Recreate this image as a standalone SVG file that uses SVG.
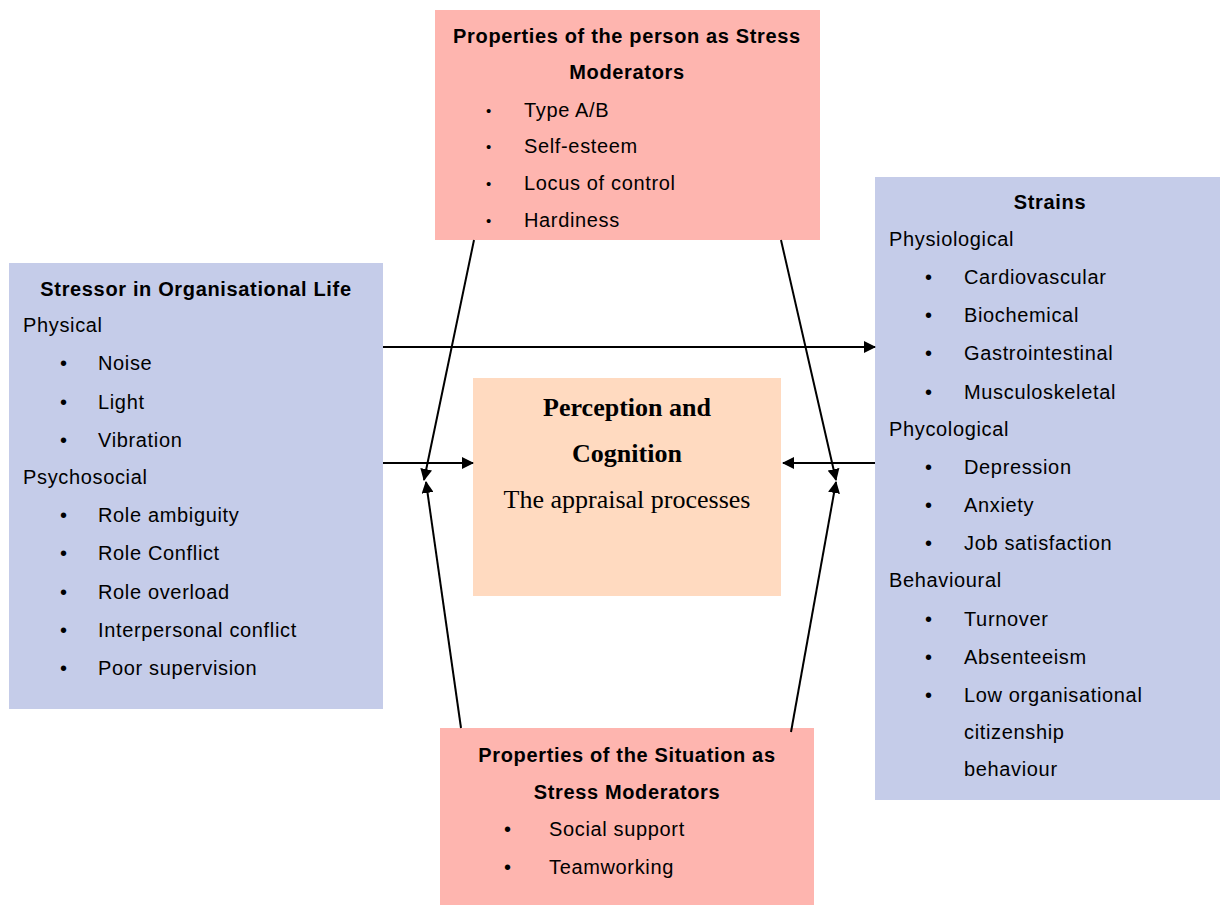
<svg xmlns="http://www.w3.org/2000/svg" width="1220" height="906" viewBox="0 0 1220 906">
<defs>
<marker id="ah" markerWidth="12" markerHeight="12" refX="11" refY="6" orient="auto" markerUnits="userSpaceOnUse">
<path d="M0,0 L12,6 L0,12 Z" fill="#000"/>
</marker>
<style>
.pink{fill:#FEB5AF}
.blue{fill:#C5CCE9}
.peach{fill:#FFDAC0}
text{font-family:"Liberation Sans",Arial,sans-serif;font-size:20px;letter-spacing:0.65px;fill:#000}
.b{font-weight:bold}
.c{text-anchor:middle}
.sb{font-size:15px}
.tm{font-family:"Liberation Serif","Times New Roman",serif;font-size:26px;letter-spacing:0}
.ln{stroke:#000;stroke-width:2;fill:none}
</style>
</defs>
<rect width="1220" height="906" fill="#fff"/>
<g id="person">
<rect class="pink" x="435" y="10" width="385" height="230"/>
<text class="b c" x="627" y="43">Properties of the person as Stress</text>
<text class="b c" x="627" y="79">Moderators</text>
<text class="sb" x="486" y="116">•</text><text x="524" y="117">Type A/B</text>
<text class="sb" x="486" y="152">•</text><text x="524" y="153">Self-esteem</text>
<text class="sb" x="486" y="189">•</text><text x="524" y="190">Locus of control</text>
<text class="sb" x="486" y="226">•</text><text x="524" y="227">Hardiness</text>
</g>
<g id="stressor">
<rect class="blue" x="9" y="263" width="374" height="446"/>
<text class="b c" x="196" y="296">Stressor in Organisational Life</text>
<text x="23" y="332">Physical</text>
<text x="60" y="370">•</text><text x="98" y="370">Noise</text>
<text x="60" y="409">•</text><text x="98" y="409">Light</text>
<text x="60" y="447">•</text><text x="98" y="447">Vibration</text>
<text x="23" y="484">Psychosocial</text>
<text x="60" y="522">•</text><text x="98" y="522">Role ambiguity</text>
<text x="60" y="560">•</text><text x="98" y="560">Role Conflict</text>
<text x="60" y="599">•</text><text x="98" y="599">Role overload</text>
<text x="60" y="637">•</text><text x="98" y="637">Interpersonal conflict</text>
<text x="60" y="675">•</text><text x="98" y="675">Poor supervision</text>
</g>
<g id="strains">
<rect class="blue" x="875" y="177" width="345" height="623"/>
<text class="b c" x="1050" y="209">Strains</text>
<text x="889" y="246">Physiological</text>
<text x="925" y="284">•</text><text x="964" y="284">Cardiovascular</text>
<text x="925" y="322">•</text><text x="964" y="322">Biochemical</text>
<text x="925" y="360">•</text><text x="964" y="360">Gastrointestinal</text>
<text x="925" y="399">•</text><text x="964" y="399">Musculoskeletal</text>
<text x="889" y="436">Phycological</text>
<text x="925" y="474">•</text><text x="964" y="474">Depression</text>
<text x="925" y="512">•</text><text x="964" y="512">Anxiety</text>
<text x="925" y="550">•</text><text x="964" y="550">Job satisfaction</text>
<text x="889" y="587">Behavioural</text>
<text x="925" y="626">•</text><text x="964" y="626">Turnover</text>
<text x="925" y="664">•</text><text x="964" y="664">Absenteeism</text>
<text x="925" y="702">•</text><text x="964" y="702">Low organisational</text>
<text x="964" y="739">citizenship</text>
<text x="964" y="776">behaviour</text>
</g>
<g id="perception">
<rect class="peach" x="473" y="378" width="308" height="218"/>
<text class="tm c" x="627" y="416" font-weight="bold">Perception and</text>
<text class="tm c" x="627" y="462" font-weight="bold">Cognition</text>
<text class="tm c" x="627" y="508">The appraisal processes</text>
</g>
<g id="situation">
<rect class="pink" x="440" y="728" width="374" height="177"/>
<text class="b c" x="627" y="762">Properties of the Situation as</text>
<text class="b c" x="627" y="799">Stress Moderators</text>
<text x="504" y="836">•</text><text x="549" y="836">Social support</text>
<text x="504" y="874">•</text><text x="549" y="874">Teamworking</text>
</g>
<g id="connectors">
<line class="ln" x1="383" y1="347" x2="875" y2="347" marker-end="url(#ah)"/>
<line class="ln" x1="383" y1="463" x2="473" y2="463" marker-end="url(#ah)"/>
<line class="ln" x1="875" y1="463" x2="783" y2="463" marker-end="url(#ah)"/>
<line class="ln" x1="474" y1="240" x2="424" y2="480" marker-end="url(#ah)"/>
<line class="ln" x1="461" y1="728" x2="426" y2="482" marker-end="url(#ah)"/>
<line class="ln" x1="781" y1="240" x2="836" y2="480" marker-end="url(#ah)"/>
<line class="ln" x1="791" y1="732" x2="836" y2="482" marker-end="url(#ah)"/>
</g>
</svg>
